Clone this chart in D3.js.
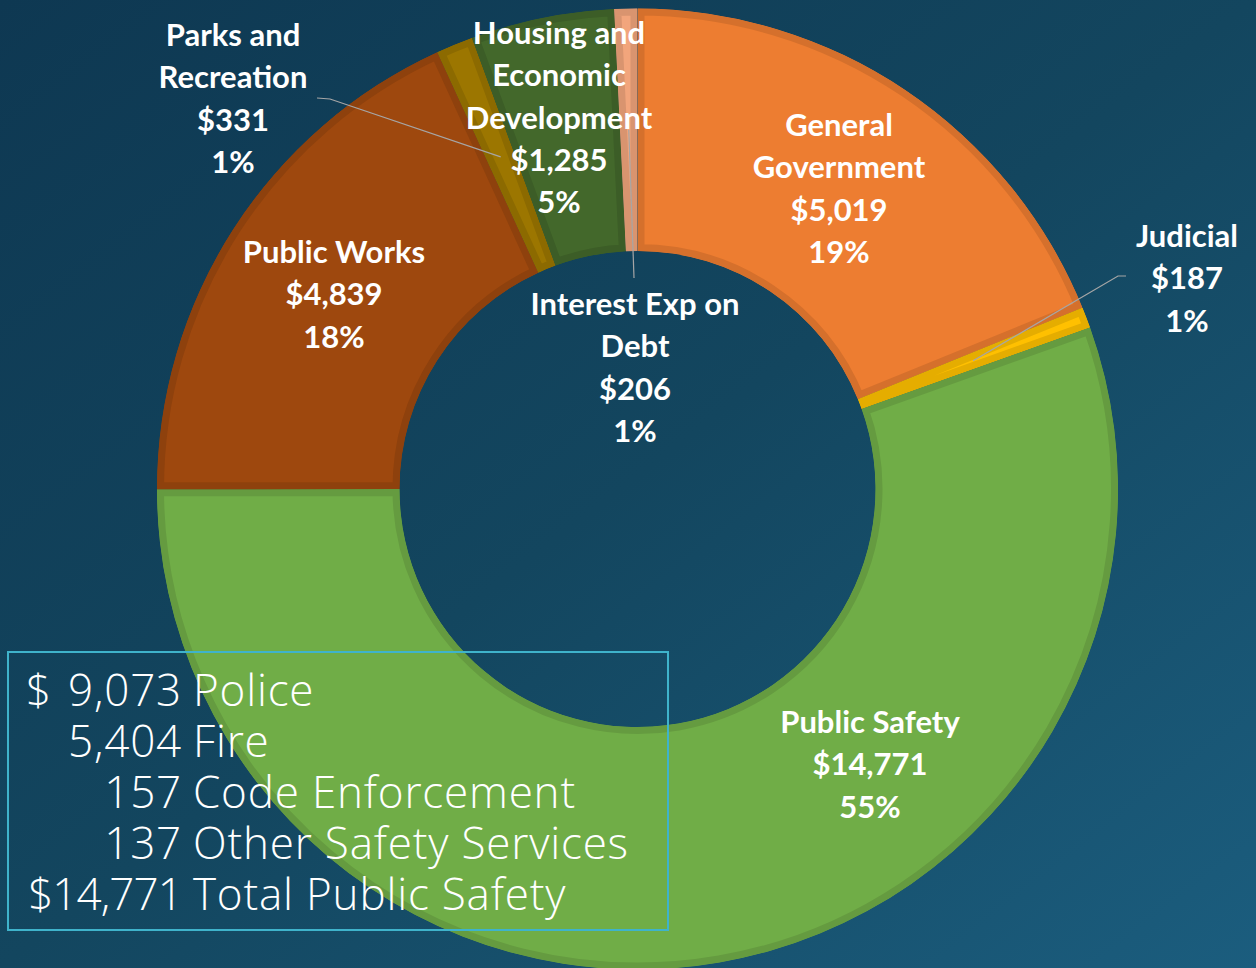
<!DOCTYPE html>
<html>
<head>
<meta charset="utf-8">
<script src="https://cdn.jsdelivr.net/npm/d3@7/dist/d3.min.js"></script>
<style>
  body { margin: 0; overflow: hidden; background: #123f58; }
</style>
</head>
<body>
<div id="chart"></div>
<script>
var svgWidth = 1256;
var svgHeight = 968;

// Budget by function ($ thousands)
var categories = ["General Government", "Judicial", "Public Safety", "Public Works",
                  "Parks and Recreation", "Housing and Economic Development", "Interest Exp on Debt"];
var values = [5019, 187, 14771, 4839, 331, 1285, 206];
var labelLines = [["General", "Government"], ["Judicial"], ["Public Safety"], ["Public Works"],
                  ["Parks and", "Recreation"], ["Housing and", "Economic", "Development"], ["Interest Exp on", "Debt"]];

// Public safety breakdown
var safetyNames = ["Police", "Fire", "Code Enforcement", "Other Safety Services", "Total Public Safety"];
var safetyValues = [9073, 5404, 157, 137, 14771];

var colors = ["#ED7D31", "#FFC000", "#70AD47", "#9E480E", "#9C7600", "#43682B", "#F2A57C"];

// label placement (center x, first baseline)
var labelPos = [[839, 136], [1187, 247], [870, 733], [334, 263], [233, 46], [559, 44], [635, 315]];
// leader line bends, null = no leader
var leaders = [null, [[1118, 276], [1126, 276]], null, null, [[330, 99], [317, 98]], null, [[634, 278]]];

var cx = 637.5, cy = 489;
var outerR = 480.5, innerR = 238;

var svg = d3.select("#chart")
  .append("svg")
  .attr("width", svgWidth)
  .attr("height", svgHeight);

var defs = svg.append("defs");
var grad = defs.append("linearGradient")
  .attr("id", "bg")
  .attr("x1", "0").attr("y1", "0")
  .attr("x2", "1").attr("y2", "1");
grad.append("stop").attr("offset", "0%").attr("stop-color", "#0E3852");
grad.append("stop").attr("offset", "50%").attr("stop-color", "#13465F");
grad.append("stop").attr("offset", "100%").attr("stop-color", "#1B5D7E");

svg.append("rect")
  .attr("width", svgWidth)
  .attr("height", svgHeight)
  .attr("fill", "url(#bg)");

var total = d3.sum(values);
var pie = d3.pie().sort(null).value(d => d);
var arc = d3.arc().innerRadius(innerR).outerRadius(outerR);
var arcs = pie(values);

var Group = svg.append("g")
  .attr("transform", `translate(${cx}, ${cy})`);

// clip each slice to itself so the darker outline sits inside
arcs.forEach(function(a, i) {
  defs.append("clipPath")
    .attr("id", "clip" + i)
    .append("path")
    .attr("d", arc(a));
});

Group.selectAll("path.slice")
  .data(arcs)
  .enter()
  .append("path")
  .attr("class", "slice")
  .attr("d", arc)
  .attr("clip-path", (d, i) => `url(#clip${i})`)
  .attr("fill", (d, i) => colors[i])
  .attr("stroke", (d, i) => d3.color(colors[i]).darker(0.3))
  .attr("stroke-width", 14);

// leader lines
arcs.forEach(function(a, i) {
  if (!leaders[i]) return;
  var c = arc.centroid(a);
  var pts = [[c[0] + cx, c[1] + cy]].concat(leaders[i]);
  svg.append("path")
    .attr("d", d3.line()(pts))
    .attr("fill", "none")
    .attr("stroke", "#A6A6A6")
    .attr("stroke-width", 1.2);
});

// data labels
var lineH = 42.3;
categories.forEach(function(name, i) {
  var lines = labelLines[i].concat(["$" + d3.format(",")(values[i]), Math.round(values[i] / total * 100) + "%"]);
  var t = svg.append("text")
    .attr("x", labelPos[i][0])
    .attr("y", labelPos[i][1])
    .attr("text-anchor", "middle")
    .attr("font-family", "Lato, 'Open Sans', sans-serif")
    .attr("font-weight", "bold")
    .attr("font-size", "31px")
    .attr("fill", "white");
  lines.forEach(function(l, j) {
    t.append("tspan")
      .attr("x", labelPos[i][0])
      .attr("y", labelPos[i][1] + j * lineH)
      .text(l);
  });
});

// breakdown box
svg.append("rect")
  .attr("x", 8).attr("y", 652)
  .attr("width", 660).attr("height", 278)
  .attr("fill", "none")
  .attr("stroke", "#3FB3CB")
  .attr("stroke-width", 2);

var box = svg.append("g")
  .attr("font-family", "'Open Sans', Lato, sans-serif")
  .attr("font-weight", 300)
  .attr("font-size", "44px")
  .attr("letter-spacing", "0.8px")
  .attr("fill", "white");

var last = safetyNames.length - 1;
safetyNames.forEach(function(n, i) {
  var y = 706 + i * 51;
  var row = box.append("text").attr("y", y);
  if (i == 0) {
    row.append("tspan").attr("x", 26).attr("y", y).text("$");
  }
  row.append("tspan")
    .attr("x", 182).attr("y", y)
    .attr("text-anchor", "end")
    .attr("letter-spacing", i == last ? "-0.9px" : null)
    .text((i == last ? "$" : "") + d3.format(",")(safetyValues[i]));
  row.append("tspan")
    .attr("x", 193).attr("y", y)
    .attr("text-anchor", "start")
    .text(n);
});
</script>
</body>
</html>
